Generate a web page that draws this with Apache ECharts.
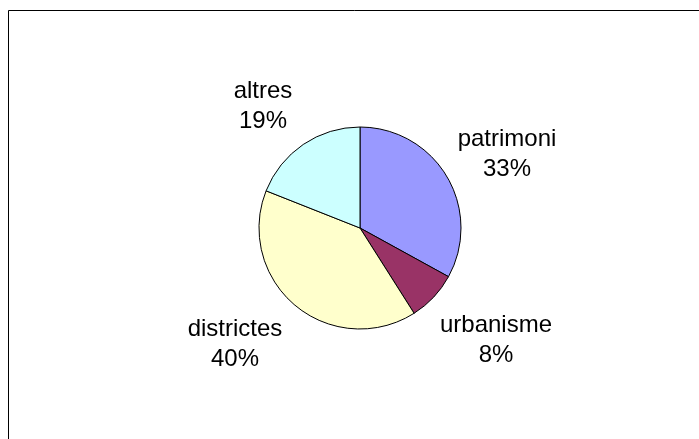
<!DOCTYPE html>
<html>
<head>
<meta charset="utf-8">
<script src="https://cdn.jsdelivr.net/npm/echarts@6/dist/echarts.min.js"></script>
<style>
html,body{margin:0;padding:0;background:#fff;}
#chart{width:699px;height:439px;}
</style>
</head>
<body>
<div id="chart"></div>
<script>
const categories = ['patrimoni', 'urbanisme', 'districtes', 'altres'];
const values = [33, 8, 40, 19];
const colors = ['#9999FF', '#993366', '#FFFFCC', '#CCFFFF'];
const labelPos = [[507, 154], [496, 340], [235, 344], [263, 106]];

const chart = echarts.init(document.getElementById('chart'), null, {renderer: 'canvas'});
chart.setOption({
  backgroundColor: '#ffffff',
  animation: false,
  graphic: [{
    type: 'rect',
    shape: {x: 8.5, y: 10.5, width: 700, height: 440},
    style: {fill: 'none', stroke: '#000', lineWidth: 1}
  }],
  series: [{
    type: 'pie',
    center: [360, 228],
    radius: 101,
    startAngle: 90,
    clockwise: true,
    data: categories.map((c, i) => ({name: c, value: values[i], itemStyle: {color: colors[i]}})),
    itemStyle: {borderColor: '#000', borderWidth: 1},
    label: {
      show: true,
      position: 'outside',
      formatter: '{b}\n{d}%',
      fontFamily: 'Liberation Sans, Arial, sans-serif',
      fontSize: 24,
      lineHeight: 30,
      color: '#000',
      align: 'center'
    },
    labelLine: {show: false},
    labelLayout: function (params) {
      const p = labelPos[params.dataIndex];
      return {x: p[0], y: p[1], align: 'center', verticalAlign: 'middle'};
    },
    emphasis: {disabled: true}
  }]
});
</script>
</body>
</html>
